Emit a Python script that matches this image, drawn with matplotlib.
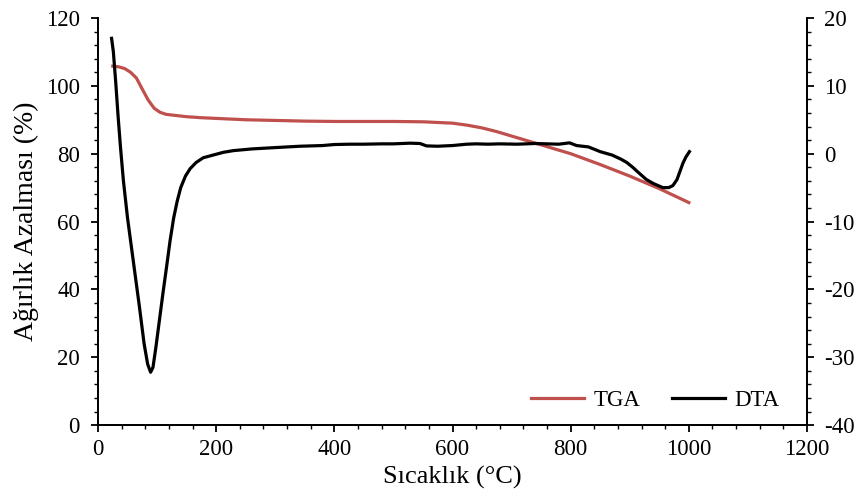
import os
import numpy as np
import matplotlib
import matplotlib.pyplot as plt
from matplotlib import font_manager

# Times benzeri font bul
family = None
for n in ['Liberation Serif', 'Times New Roman', 'Nimbus Roman', 'STIXGeneral']:
    try:
        font_manager.findfont(n, fallback_to_default=False)
        family = n
        break
    except Exception:
        pass
if family is None:
    p = os.path.join(matplotlib.get_data_path(), 'fonts', 'ttf', 'STIXGeneral.ttf')
    font_manager.fontManager.addfont(p)
    family = 'STIXGeneral'
plt.rcParams['font.family'] = [family, 'DejaVu Serif']
plt.rcParams['font.size'] = 16.5
plt.rcParams['axes.unicode_minus'] = False

# TGA (sol eksen, %)
tga_x = [25, 35, 45, 55, 65, 75, 85, 95, 105, 115, 130, 150, 175, 200, 250, 300,
         350, 400, 450, 500, 550, 600, 625, 650, 675, 700, 725, 750, 775, 800,
         850, 900, 950, 1000]
tga_y = [105.8, 105.6, 105.1, 104.0, 102.3, 99.0, 95.8, 93.4, 92.2, 91.6, 91.3,
         90.9, 90.6, 90.4, 90.0, 89.8, 89.6, 89.5, 89.5, 89.5, 89.4, 89.0, 88.4,
         87.6, 86.5, 85.2, 83.9, 82.6, 81.3, 80.0, 76.8, 73.4, 69.7, 65.6]

# DTA (sag eksen)
dta_x = [23, 26, 30, 34, 38, 43, 50, 60, 70, 78, 84, 89, 93, 98, 104, 110, 116,
         122, 128, 134, 140, 148, 156, 166, 178, 195, 212, 229, 260, 300, 342, 380,
         400, 426, 450, 480, 500, 528, 545, 556, 575, 600, 624, 640, 660, 680, 709,
         740, 760, 780, 798, 810, 830, 850, 870, 885, 895, 905, 915, 928, 940, 956,
         966, 973, 980, 985, 990, 995, 1001]
dta_y = [17.0, 15.0, 10.5, 5.5, 1.0, -4.0, -9.5, -16.0, -22.5, -28.0, -31.0,
         -32.2, -31.5, -28.5, -24.5, -20.5, -16.7, -12.8, -9.5, -7.0, -5.0, -3.3,
         -2.2, -1.3, -0.6, -0.2, 0.2, 0.45, 0.7, 0.9, 1.1, 1.2, 1.35, 1.4, 1.4, 1.45,
         1.45, 1.55, 1.5, 1.15, 1.1, 1.2, 1.4, 1.45, 1.4, 1.45, 1.4, 1.5, 1.45, 1.4,
         1.6, 1.2, 1.0, 0.3, -0.2, -0.8, -1.3, -2.0, -2.8, -3.8, -4.4, -5.0, -5.0,
         -4.7, -3.8, -2.6, -1.4, -0.5, 0.3]

fig = plt.figure(figsize=(8.62, 4.99), dpi=100)
ax = fig.add_axes([0.1137, 0.148, 0.8225, 0.816])
ax2 = ax.twinx()

l1, = ax.plot(tga_x, tga_y, color='#C0504D', lw=2.3, label='TGA', zorder=2)
l2, = ax2.plot(dta_x, dta_y, color='black', lw=2.3, label='DTA', zorder=3)

ax.set_xlim(0, 1200)
ax.set_ylim(0, 120)
ax2.set_ylim(-40, 20)
ax.set_xticks(np.arange(0, 1201, 200))
ax.set_xticks(np.arange(0, 1201, 40), minor=True)
ax.set_yticks(np.arange(0, 121, 20))
ax.set_yticks(np.arange(0, 121, 4), minor=True)
ax2.set_yticks(np.arange(-40, 21, 10))
ax2.set_yticks(np.arange(-40, 21, 2), minor=True)

for a in (ax, ax2):
    a.spines['top'].set_visible(False)
    for s in a.spines.values():
        s.set_linewidth(1.3)
    a.tick_params(which='major', length=5, width=1.3)
    a.tick_params(which='minor', length=3, width=1.0)
ax.tick_params(axis='y', which='major', pad=8)
ax.tick_params(axis='x', which='major', pad=5)
ax2.tick_params(axis='y', which='major', pad=7)

ax.set_xlabel('Sıcaklık (°C)', fontsize=19, labelpad=4)
ax.set_ylabel('Ağırlık Azalması (%)', fontsize=20, labelpad=5)

ax.legend([l1, l2], ['TGA', 'DTA'], loc='lower right', ncol=2, frameon=False,
          handlelength=2.3, columnspacing=1.4, handletextpad=0.4,
          bbox_to_anchor=(0.99, -0.015))

fig.savefig('out.png', dpi=100)
